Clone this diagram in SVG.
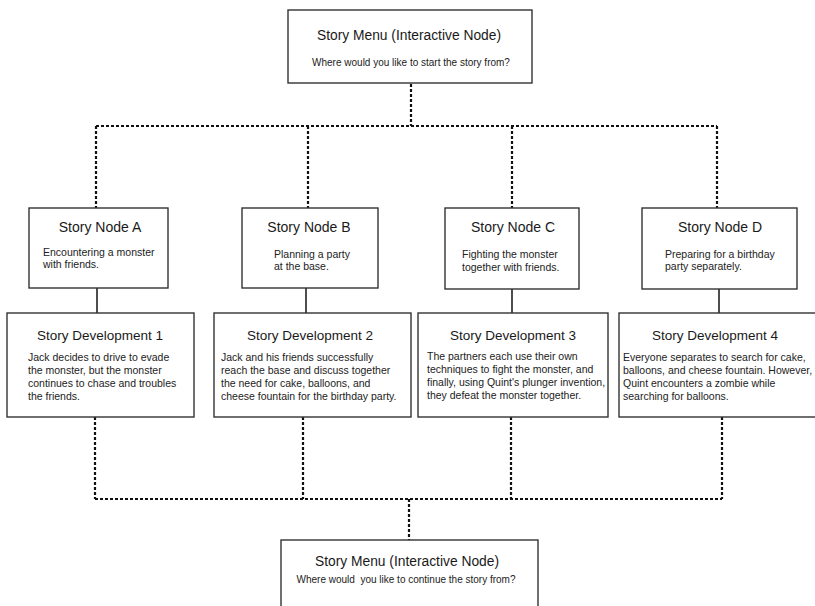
<svg xmlns="http://www.w3.org/2000/svg" width="815" height="606" viewBox="0 0 815 606">
  <style>
    .box { fill: #fff; stroke: #333; stroke-width: 1.4; }
    .title { font-family: "Liberation Sans", Arial, sans-serif; font-size: 14px; fill: #1a1a1a; text-anchor: middle; }
    .dtitle { font-family: "Liberation Sans", Arial, sans-serif; font-size: 13.5px; fill: #1a1a1a; text-anchor: middle; }
    .sub { font-family: "Liberation Sans", Arial, sans-serif; font-size: 10px; fill: #222; text-anchor: middle; white-space: pre; }
    .desc { font-family: "Liberation Sans", Arial, sans-serif; font-size: 10.5px; fill: #222; }
    .dot { fill: none; stroke: #111; stroke-width: 2.2; stroke-dasharray: 3 2; }
    .solid { fill: none; stroke: #222; stroke-width: 1.6; }
  </style>

  <!-- connectors -->
  <g id="connectors">
    <path class="dot" d="M411 84 V126 M96 126 H717 M96 126 V208 M308 126 V208 M512 126 V208 M717 126 V208"/>
    <path class="solid" d="M97 288 V313 M306 288 V313 M512 288 V313 M719 288 V313"/>
    <path class="dot" d="M95 417 V499 M303 417 V499 M511 417 V499 M722 417 V499 M95 499 H722 M409 499 V540"/>
  </g>

  <!-- top menu -->
  <g id="menu-start">
    <rect class="box" x="288" y="10" width="244" height="73"/>
    <text class="title" x="409" y="40" style="font-size:13.8px">Story Menu (Interactive Node)</text>
    <text class="sub" x="411" y="65.5">Where would you like to start the story from?</text>
  </g>

  <!-- story nodes -->
  <g id="node-a">
    <rect class="box" x="29" y="208" width="139" height="80"/>
    <text class="title" x="100" y="232">Story Node A</text>
    <text class="desc" x="43" y="255.5">Encountering a monster</text>
    <text class="desc" x="43" y="268">with friends.</text>
  </g>
  <g id="node-b">
    <rect class="box" x="242" y="208" width="136" height="80"/>
    <text class="title" x="309" y="232">Story Node B</text>
    <text class="desc" x="274" y="257.5">Planning a party</text>
    <text class="desc" x="274" y="270">at the base.</text>
  </g>
  <g id="node-c">
    <rect class="box" x="445" y="208" width="134" height="81"/>
    <text class="title" x="513" y="232">Story Node C</text>
    <text class="desc" x="462" y="258">Fighting the monster</text>
    <text class="desc" x="462" y="270.5">together with friends.</text>
  </g>
  <g id="node-d">
    <rect class="box" x="642" y="208" width="155" height="81"/>
    <text class="title" x="720" y="232">Story Node D</text>
    <text class="desc" x="665" y="257.5">Preparing for a birthday</text>
    <text class="desc" x="665" y="270">party separately.</text>
  </g>

  <!-- story developments -->
  <g id="dev-1">
    <rect class="box" x="7" y="313" width="187" height="104"/>
    <text class="dtitle" x="100" y="340">Story Development 1</text>
    <text class="desc" x="28" y="360.5">Jack decides to drive to evade</text>
    <text class="desc" x="28" y="373.5">the monster, but the monster</text>
    <text class="desc" x="28" y="386.5">continues to chase and troubles</text>
    <text class="desc" x="28" y="399.5">the friends.</text>
  </g>
  <g id="dev-2">
    <rect class="box" x="214" y="313" width="197" height="104"/>
    <text class="dtitle" x="310" y="340">Story Development 2</text>
    <text class="desc" x="221" y="360.5">Jack and his friends successfully</text>
    <text class="desc" x="221" y="373.5">reach the base and discuss together</text>
    <text class="desc" x="221" y="386.5">the need for cake, balloons, and</text>
    <text class="desc" x="221" y="399.5">cheese fountain for the birthday party.</text>
  </g>
  <g id="dev-3">
    <rect class="box" x="418" y="313" width="190" height="104"/>
    <text class="dtitle" x="513" y="340">Story Development 3</text>
    <text class="desc" x="427" y="360">The partners each use their own</text>
    <text class="desc" x="427" y="373">techniques to fight the monster, and</text>
    <text class="desc" x="427" y="386">finally, using Quint's plunger invention,</text>
    <text class="desc" x="427" y="399">they defeat the monster together.</text>
  </g>
  <g id="dev-4">
    <rect class="box" x="619" y="313" width="210" height="104"/>
    <text class="dtitle" x="715" y="340">Story Development 4</text>
    <text class="desc" x="623" y="360.5">Everyone separates to search for cake,</text>
    <text class="desc" x="623" y="373.5">balloons, and cheese fountain. However,</text>
    <text class="desc" x="623" y="386.5">Quint encounters a zombie while</text>
    <text class="desc" x="623" y="399.5">searching for balloons.</text>
  </g>

  <!-- bottom menu -->
  <g id="menu-continue">
    <rect class="box" x="281" y="540" width="257" height="80"/>
    <text class="title" x="407" y="566" style="font-size:13.8px">Story Menu (Interactive Node)</text>
    <text class="sub" x="406" y="582.5">Where would  you like to continue the story from?</text>
  </g>
</svg>
